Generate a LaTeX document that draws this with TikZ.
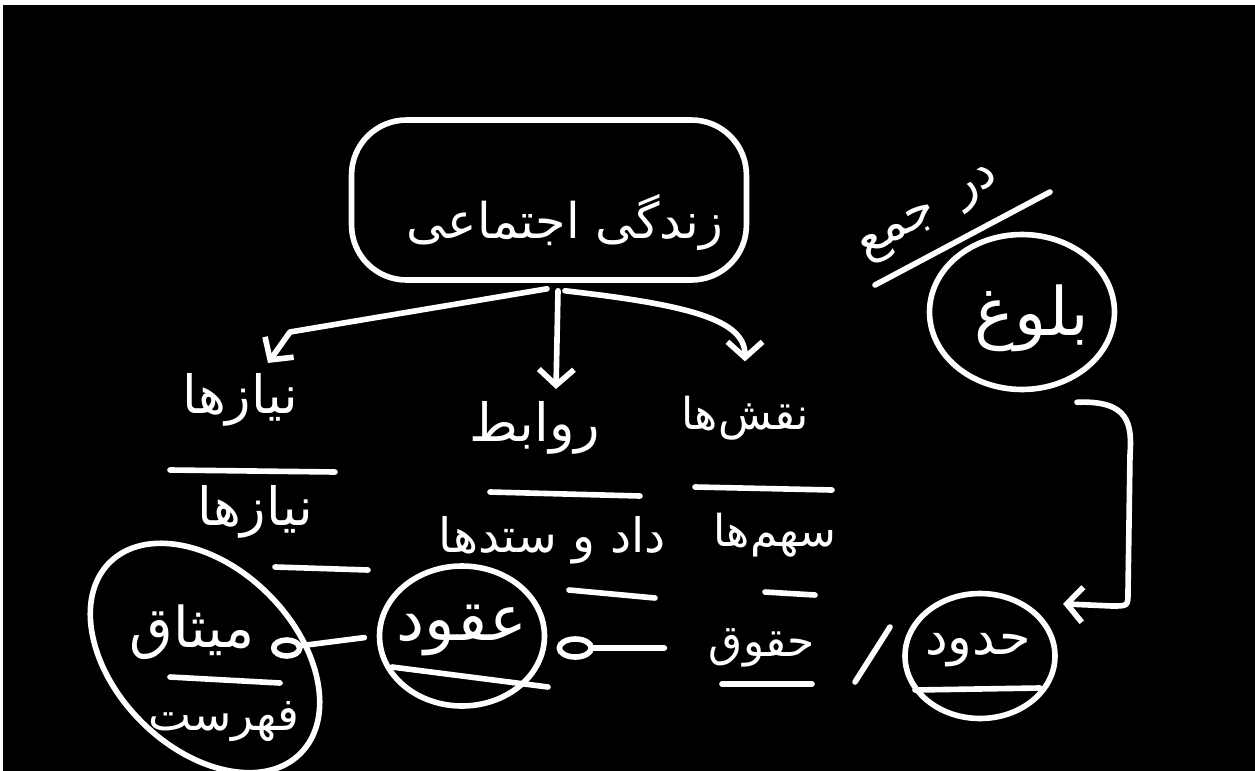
\documentclass[tikz,border=0pt]{standalone}
\usepackage{fontspec}
\newfontfamily\fafont[Script=Arabic]{DejaVu Sans}
\TeXXeTstate=1
\usepackage{tikz}
\usetikzlibrary{arrows.meta,shapes.geometric,calc}
\newcommand{\fa}[1]{\beginR #1\endR}

\begin{document}
\begin{tikzpicture}[x=0.02cm, y=-0.02cm, line width=3.2pt, line cap=round, line join=round, white,
    lbl/.style={text=white, font=\fontsize{#1}{#1}\selectfont\fafont, inner sep=1pt},
    lbl/.default=28,
    ring/.style={draw=white, ellipse, inner sep=0pt},
    arr/.style={-{Straight Barb[length=9pt, width=20pt]}}]

        \fill [white] (0,0) rectangle (1255,771);
        \fill [black] (3,5) rectangle (1255,771);
        \useasboundingbox (0,0) rectangle (1255,771);

        % top box
        \node [draw=white, rounded corners=1.1cm, minimum width=7.9cm, minimum height=3.2cm] (title) at (549,200) {};
        \node [lbl=28] (titletext) at (565,222) {\fa{زندگی اجتماعی}};

        % three branches
        \node [lbl=30] (niaz) at (240,400) {\fa{نیازها}};
        \node [lbl=30] (ravabet) at (535,428) {\fa{روابط}};
        \node [lbl=25] (naqsh) at (745,418) {\fa{نقش‌ها}};

        \draw [arr] ($(title.south)+(-2,6)$) -- (290,332) -- ($(niaz.north)+(28,-6)$);
        \draw [arr] ($(title.south)+(9,8)$) -- ($(ravabet.north)+(21,-8)$);
        \draw [arr] ($(title.south)+(16,8)$) .. controls (690,305) and (745,320) .. ($(naqsh.north)+(0,-30)$);

        \draw (170,470) -- (335,472);
        \draw (490,492) -- (640,496);
        \draw (695,487) -- (832,490);

        \node [lbl=30] (niazb) at (255,512) {\fa{نیازها}};
        \node [lbl=27] (dadosetad) at (552,540) {\fa{داد و ستدها}};
        \node [lbl=25] (sahm) at (775,535) {\fa{سهم‌ها}};

        \draw (275,567) -- (368,570);
        \draw (569,590) -- (655,598);
        \draw (765,592) -- (815,595);

        % bottom row
        \node [lbl=25] (hoquq) at (762,648) {\fa{حقوق}};
        \draw (722,684) -- (812,684);
        \draw (855,682) -- (890,627);

        \node [ring, minimum width=3cm, minimum height=2.5cm] (hodud) at (980,656) {};
        \node [lbl=29] (hodudtext) at (978,650) {\fa{حدود}};
        \draw (915,690) -- (1040,688);

        \node [ring, minimum width=3.3cm, minimum height=2.8cm] (oqud) at (462,636) {};
        \node [lbl=36] (oqudtext) at (462,630) {\fa{عقود}};
        \draw (392,667) -- (548,687);

        \draw [shorten <=0.8cm, shorten >=0.92cm] (hoquq.west) -- (oqud.east |- hoquq.west);
        \draw ($(oqud.east |- hoquq.west)+(28,0)$) ellipse [x radius=16, y radius=9];

        % left ellipse
        \node [ring, rotate=-45, minimum width=5.4cm, minimum height=3.6cm] (misaq) at (205,658) {};
        \node [lbl=32] (misaqtext) at (192,632) {\fa{میثاق}};
        \draw (170,677) -- (280,683);
        \node [lbl=26] (fehrest) at (224,722) {\fa{فهرست}};

        \draw [shorten <=0.25cm] (oqud.west) -- ++(-78,10) coordinate (loopb);
        \draw ($(loopb)+(-12,2)$) ellipse [x radius=13, y radius=8];

        % right side
        \node [ring, minimum width=3.7cm, minimum height=3.1cm] (bolugh) at (1022,312) {};
        \node [lbl=38] (bolughtext) at (1032,318) {\fa{بلوغ}};
        \draw (875,285) -- (1050,192);
        \node [lbl=28, rotate=30] (jam) at (900,234) {\fa{جمع}};
        \node [lbl=28, rotate=30] (dar) at (978,188) {\fa{در}};

        \draw [arr] ($(bolugh.south)+(55,10)$) .. controls (1130,400) and (1132,425) .. (1130,455)
            -- (1128,592) .. controls (1128,606) .. (1112,606) -- ($(hodud.north east)+(28,-6)$);

\end{tikzpicture}
\end{document}
